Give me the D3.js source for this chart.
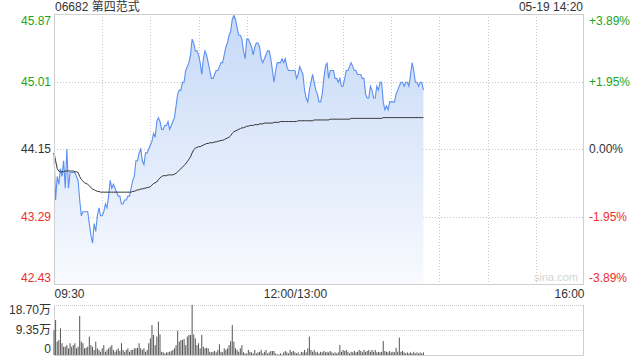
<!DOCTYPE html>
<html>
<head>
<meta charset="utf-8">
<script src="https://cdn.jsdelivr.net/npm/d3@7"></script>
<style>
  body { margin: 0; background: #fff; }
  text { font-family: "Liberation Sans", Arial, sans-serif; }
</style>
</head>
<body>
<script>
// minute offsets from 09:30 (lunch break removed), 0..230 = 09:30..14:20
var prices = [
  44.10, 43.50, 43.80, 43.70, 43.90, 43.80, 44.00, 43.65, 44.15, 43.65,
  43.85, 43.85, 43.85, 43.85, 43.80, 43.75, 43.50, 43.30, 43.35, 43.35,
  43.35, 43.35, 43.20, 43.05, 42.95, 43.20, 43.10, 43.30, 43.40, 43.30,
  43.30, 43.35, 43.45, 43.40, 43.55, 43.75, 43.65, 43.70, 43.65, 43.60,
  43.55, 43.55, 43.45, 43.45, 43.50, 43.50, 43.55, 43.55, 43.65, 43.75,
  43.80, 44.00, 44.00, 44.10, 44.15, 44.00, 43.95, 44.10, 44.10, 44.15,
  44.20, 44.25, 44.35, 44.30, 44.50, 44.55, 44.50, 44.40, 44.40, 44.45,
  44.45, 44.50, 44.40, 44.45, 44.50, 44.55, 44.70, 44.85, 44.90, 44.90,
  45.00, 45.00, 45.15, 45.20, 45.25, 45.35, 45.55, 45.50, 45.40, 45.40,
  45.35, 45.25, 45.10, 45.30, 45.40, 45.35, 45.25, 45.15, 45.05, 45.05,
  45.10, 45.15, 45.15, 45.20, 45.25, 45.25, 45.35, 45.45, 45.50, 45.60,
  45.65, 45.80, 45.85, 45.80, 45.70, 45.60, 45.60, 45.55, 45.40, 45.30,
  45.55, 45.55, 45.50, 45.45, 45.35, 45.45, 45.50, 45.50, 45.45, 45.30,
  45.25, 45.30, 45.35, 45.40, 45.40, 45.30, 45.15, 45.00, 45.15, 45.25,
  45.25, 45.25, 45.30, 45.25, 45.30, 45.20, 45.15, 45.15, 45.15, 45.15,
  45.15, 45.05, 45.10, 45.20, 45.15, 45.10, 44.90, 44.80, 44.75, 44.90,
  45.00, 45.10, 45.00, 44.90, 44.85, 44.75, 44.75, 44.85, 45.05, 45.20,
  45.25, 45.05, 45.15, 45.15, 45.15, 45.05, 45.05, 45.00, 45.05, 44.95,
  44.95, 45.05, 45.15, 45.15, 45.20, 45.25, 45.20, 45.15, 45.15, 45.10,
  45.10, 45.10, 45.05, 45.05, 44.85, 44.80, 44.80, 44.95, 44.90, 44.80,
  44.80, 44.95, 44.90, 45.00, 45.00, 44.75, 44.65, 44.70, 44.65, 44.75,
  44.75, 44.75, 44.75, 44.85, 44.90, 44.95, 45.00, 45.00, 44.95, 45.00,
  45.00, 44.95, 45.10, 45.25, 45.15, 45.00, 45.00, 44.95, 45.00, 45.00,
  44.90
];

var avgPrices = [
  44.10, 44.00, 43.90, 43.87, 43.86, 43.86, 43.86, 43.87, 43.87, 43.87,
  43.87, 43.87, 43.87, 43.86, 43.86, 43.85, 43.80, 43.76, 43.74, 43.72,
  43.71, 43.70, 43.68, 43.66, 43.64, 43.63, 43.62, 43.61, 43.61, 43.60,
  43.60, 43.60, 43.60, 43.60, 43.60, 43.60, 43.60, 43.60, 43.60, 43.60,
  43.60, 43.60, 43.60, 43.60, 43.60, 43.60, 43.60, 43.60, 43.60, 43.61,
  43.61, 43.62, 43.63, 43.63, 43.64, 43.64, 43.65, 43.65, 43.66, 43.66,
  43.67, 43.69, 43.71, 43.72, 43.73, 43.76, 43.78, 43.80, 43.81, 43.81,
  43.81, 43.82, 43.82, 43.82, 43.82, 43.83, 43.84, 43.86, 43.88, 43.90,
  43.92, 43.94, 43.96, 43.99, 44.02, 44.05, 44.10, 44.14, 44.16, 44.17,
  44.18, 44.18, 44.19, 44.20, 44.21, 44.22, 44.22, 44.23, 44.23, 44.23,
  44.24, 44.24, 44.25, 44.25, 44.26, 44.26, 44.27, 44.28, 44.29, 44.30,
  44.32, 44.35, 44.37, 44.38, 44.39, 44.40, 44.41, 44.42, 44.42, 44.43,
  44.44, 44.44, 44.45, 44.45, 44.45, 44.46, 44.46, 44.46, 44.47, 44.47,
  44.47, 44.48, 44.48, 44.48, 44.48, 44.48, 44.48, 44.49, 44.49, 44.49,
  44.49, 44.50, 44.50, 44.50, 44.50, 44.50, 44.50, 44.50, 44.50, 44.50,
  44.50, 44.50, 44.51, 44.51, 44.51, 44.51, 44.51, 44.51, 44.51, 44.51,
  44.51, 44.51, 44.52, 44.52, 44.52, 44.52, 44.52, 44.52, 44.52, 44.52,
  44.52, 44.52, 44.53, 44.53, 44.53, 44.53, 44.53, 44.53, 44.53, 44.53,
  44.53, 44.53, 44.53, 44.53, 44.53, 44.54, 44.54, 44.54, 44.54, 44.54,
  44.54, 44.54, 44.54, 44.54, 44.54, 44.54, 44.54, 44.54, 44.54, 44.54,
  44.54, 44.54, 44.54, 44.54, 44.54, 44.55, 44.55, 44.55, 44.55, 44.55,
  44.55, 44.55, 44.55, 44.55, 44.55, 44.55, 44.55, 44.55, 44.55, 44.55,
  44.55, 44.55, 44.55, 44.55, 44.55, 44.55, 44.55, 44.55, 44.55, 44.55,
  44.55
];

// volume per minute, in 万 shares
var volumes = [
  9.35, 13.1, 5.0, 5.6, 10.0, 4.4, 3.1, 3.1, 3.7, 2.5,
  4.4, 3.1, 3.7, 4.4, 2.5, 3.1, 14.6, 5.0, 4.4, 2.5,
  2.7, 3.1, 6.9, 3.7, 3.1, 1.9, 5.0, 2.5, 1.9, 1.2,
  2.5, 3.7, 1.2, 1.9, 2.5, 3.1, 3.7, 1.9, 1.2, 1.9,
  2.5, 1.5, 4.4, 1.9, 1.2, 1.9, 2.5, 1.2, 1.9, 1.9,
  2.5, 2.5, 2.7, 4.4, 2.5, 1.9, 2.5, 1.2, 1.9, 4.4,
  6.2, 11.2, 7.5, 3.7, 6.9, 12.5, 7.7, 1.2, 1.0, 0.6,
  1.0, 1.0, 1.2, 1.5, 1.9, 2.5, 3.7, 9.0, 5.0, 5.6,
  5.6, 6.0, 3.7, 6.9, 7.5, 7.5, 18.7, 7.7, 6.2, 3.7,
  4.4, 2.5, 7.5, 3.1, 2.5, 2.7, 2.5, 1.2, 1.0, 1.2,
  1.5, 1.0, 1.9, 4.0, 1.2, 1.0, 2.5, 1.9, 2.5, 3.7,
  5.2, 11.2, 5.0, 2.5, 1.9, 1.2, 2.5, 3.7, 1.0, 0.6,
  0.6, 1.9, 1.2, 1.0, 0.6, 1.9, 0.6, 1.0, 1.2, 1.9,
  0.6, 1.2, 1.9, 0.6, 1.0, 1.5, 1.5, 1.5, 0.6, 0.25,
  0.25, 0.6, 0.25, 1.0, 1.5, 1.0, 0.6, 1.9, 1.2, 1.5,
  1.0, 0.6, 1.0, 0.25, 1.2, 1.0, 1.9, 1.0, 2.5, 6.9,
  1.9, 1.2, 1.9, 1.0, 1.2, 0.6, 1.2, 1.0, 1.5, 1.0,
  1.2, 1.0, 1.5, 1.0, 0.6, 1.0, 0.6, 1.0, 3.7, 1.2,
  1.9, 1.5, 1.9, 1.2, 0.6, 1.2, 1.0, 1.5, 1.0, 1.2,
  1.9, 1.5, 1.0, 1.9, 1.2, 1.5, 1.9, 1.2, 1.9, 1.2,
  1.9, 1.0, 1.2, 1.0, 1.2, 5.2, 1.5, 1.2, 1.0, 1.5,
  1.0, 1.2, 1.0, 2.7, 1.2, 6.5, 1.2, 1.5, 1.0, 0.6,
  1.0, 0.6, 1.0, 0.6, 1.2, 0.6, 1.0, 0.6, 1.0, 0.6,
  1.0
];

var prevClose = 44.15;
var priceTicks = [42.43, 43.29, 44.15, 45.01, 45.87];
var pctLabels = ["-3.89%", "-1.95%", "0.00%", "+1.95%", "+3.89%"];
var timeTicks = [0, 150, 330];
var timeLabels = ["09:30", "12:00/13:00", "16:00"];
var volTicks = [0, 9.35, 18.70];
var volLabels = ["0", "9.35万", "18.70万"];
var title = "06682 第四范式";
var stamp = "05-19 14:20";

var W = 640, H = 360;
var pL = 54, pR = 584, pT = 14, pB = 284;
var vTop = 305, vBottom = 355;

var green = "#1aa51a", red = "#ee2d2d", dark = "#333";

var svg = d3.select("body").append("svg")
  .attr("width", W)
  .attr("height", H);

var x = d3.scaleLinear().domain([0, 330]).range([pL, pR]);
var y = d3.scaleLinear().domain([42.43, 45.87]).range([pB, pT]);
var yv = d3.scaleLinear().domain([0, 18.70]).range([vBottom, vTop]);

function tickColor(p) {
  if (Math.abs(p - prevClose) < 0.001) return dark;
  return p > prevClose ? green : red;
}

// gradient for the area
var defs = svg.append("defs");
var grad = defs.append("linearGradient")
  .attr("id", "areaGrad")
  .attr("gradientUnits", "userSpaceOnUse")
  .attr("x1", 0).attr("y1", pT)
  .attr("x2", 0).attr("y2", pB);
grad.append("stop").attr("offset", "0%").attr("stop-color", "#c6d9f7");
grad.append("stop").attr("offset", "100%").attr("stop-color", "#f8fafe");

// grid
var grid = svg.append("g");
d3.range(1, 11).forEach(function(i) {
  grid.append("line")
    .attr("x1", Math.round(x(i * 30)) + 0.5).attr("x2", Math.round(x(i * 30)) + 0.5)
    .attr("y1", pT).attr("y2", pB)
    .attr("stroke", "#c8c8c8")
    .attr("stroke-dasharray", "1,2");
});
priceTicks.slice(1, 4).forEach(function(p) {
  grid.append("line")
    .attr("x1", pL).attr("x2", pR)
    .attr("y1", Math.round(y(p)) + 0.5).attr("y2", Math.round(y(p)) + 0.5)
    .attr("stroke", "#c8c8c8")
    .attr("stroke-dasharray", "1,2");
});

// area + price line
var area = d3.area()
  .x(function(d, i) { return x(i); })
  .y0(pB)
  .y1(function(d) { return y(d); });

svg.append("path")
  .datum(prices)
  .attr("d", area)
  .attr("fill", "url(#areaGrad)");

var line = d3.line()
  .x(function(d, i) { return x(i); })
  .y(function(d) { return y(d); });

svg.append("path")
  .datum(prices)
  .attr("d", line)
  .attr("fill", "none")
  .attr("stroke", "#5b8ff0")
  .attr("stroke-width", 1.1);

svg.append("path")
  .datum(avgPrices)
  .attr("d", line)
  .attr("fill", "none")
  .attr("stroke", "#333")
  .attr("stroke-width", 1);

// border
svg.append("rect")
  .attr("x", pL + 0.5).attr("y", pT + 0.5)
  .attr("width", pR - pL - 1).attr("height", pB - pT)
  .attr("fill", "none")
  .attr("stroke", "#cfcfcf");

// watermark
svg.append("text")
  .attr("x", 578).attr("y", 281)
  .attr("text-anchor", "end")
  .attr("font-size", 11)
  .attr("fill", "#d4d4d4")
  .text("sina.com");

// left price axis
var axL = svg.append("g")
  .attr("transform", "translate(" + pL + ",0)")
  .call(d3.axisLeft(y).tickValues(priceTicks).tickSize(0).tickPadding(3)
    .tickFormat(d3.format(".2f")));
axL.select(".domain").remove();
axL.selectAll("text")
  .attr("font-size", 12)
  .attr("font-family", "Liberation Sans, Arial, sans-serif")
  .attr("fill", function(d) { return tickColor(d); })
  .attr("dy", function(d, i) { return i === 0 ? "-0.25em" : (i === 4 ? "0.85em" : "0.32em"); });

// right percent axis
var axR = svg.append("g")
  .attr("transform", "translate(" + pR + ",0)")
  .call(d3.axisRight(y).tickValues(priceTicks).tickSize(0).tickPadding(5)
    .tickFormat(function(d, i) { return pctLabels[i]; }));
axR.select(".domain").remove();
axR.selectAll("text")
  .attr("font-size", 12)
  .attr("font-family", "Liberation Sans, Arial, sans-serif")
  .attr("fill", function(d) { return tickColor(d); })
  .attr("dy", function(d, i) { return i === 0 ? "-0.25em" : (i === 4 ? "0.85em" : "0.32em"); });

// time axis
var axT = svg.append("g")
  .attr("transform", "translate(0," + pB + ")")
  .call(d3.axisBottom(x).tickValues(timeTicks).tickSize(0).tickPadding(4)
    .tickFormat(function(d, i) { return timeLabels[i]; }));
axT.select(".domain").remove();
axT.selectAll("text")
  .attr("font-size", 12)
  .attr("font-family", "Liberation Sans, Arial, sans-serif")
  .attr("fill", dark)
  .attr("dy", "0.85em")
  .attr("text-anchor", function(d, i) { return i === 0 ? "start" : (i === 2 ? "end" : "middle"); });

// title + timestamp
svg.append("text")
  .attr("x", pL + 1).attr("y", 11)
  .attr("font-size", 12)
  .attr("fill", dark)
  .style("font-family", "'Liberation Sans', 'Noto Sans CJK SC', sans-serif")
  .text(title);
svg.append("text")
  .attr("x", pR - 1).attr("y", 11)
  .attr("text-anchor", "end")
  .attr("font-size", 12)
  .attr("fill", dark)
  .text(stamp);

// volume panel
var vol = svg.append("g");
[9.35, 18.70].forEach(function(v) {
  vol.append("line")
    .attr("x1", pL).attr("x2", pR)
    .attr("y1", Math.round(yv(v)) + 0.5).attr("y2", Math.round(yv(v)) + 0.5)
    .attr("stroke", "#c8c8c8")
    .attr("stroke-dasharray", "1,1");
});
vol.append("line")
  .attr("x1", pL + 0.5).attr("x2", pL + 0.5)
  .attr("y1", vTop).attr("y2", vBottom)
  .attr("stroke", "#cfcfcf");
vol.append("line")
  .attr("x1", pR - 0.5).attr("x2", pR - 0.5)
  .attr("y1", vTop).attr("y2", vBottom)
  .attr("stroke", "#cfcfcf");
vol.append("line")
  .attr("x1", pL).attr("x2", pR)
  .attr("y1", vBottom + 0.5).attr("y2", vBottom + 0.5)
  .attr("stroke", "#cfcfcf");

vol.selectAll("rect.bar")
  .data(volumes)
  .enter().append("rect")
  .attr("class", "bar")
  .attr("x", function(d, i) { return x(i) - 0.5; })
  .attr("width", 1)
  .attr("y", function(d) { return yv(d); })
  .attr("height", function(d) { return vBottom - yv(d); })
  .attr("fill", "#555");

var axV = svg.append("g")
  .attr("transform", "translate(" + pL + ",0)")
  .call(d3.axisLeft(yv).tickValues(volTicks).tickSize(0).tickPadding(3)
    .tickFormat(function(d, i) { return volLabels[i]; }));
axV.select(".domain").remove();
axV.selectAll("text")
  .attr("font-size", 12)
  .style("font-family", "'Liberation Sans', 'Noto Sans CJK SC', sans-serif")
  .attr("fill", dark)
  .attr("dy", function(d, i) { return i === 0 ? "-0.2em" : (i === 2 ? "0.7em" : "0.32em"); });
</script>
</body>
</html>
